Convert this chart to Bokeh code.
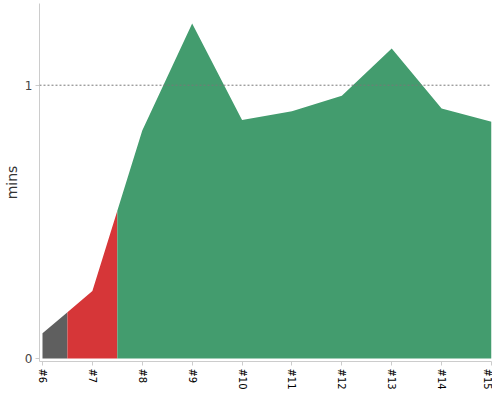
import numpy as np
from bokeh.plotting import figure
from bokeh.models import Span, FixedTicker, Range1d
from bokeh.embed import file_html
from bokeh.resources import INLINE

builds = ["#6", "#7", "#8", "#9", "#10", "#11", "#12", "#13", "#14", "#15"]
mins = [0.092, 0.247, 0.834, 1.226, 0.873, 0.905, 0.961, 1.134, 0.915, 0.866]
status = ["gray", "red", "green", "green", "green", "green", "green", "green", "green", "green"]
status_colors = {"gray": "#5f5f5f", "red": "#d63638", "green": "#439c6e"}

xs = np.arange(6, 6 + len(builds), dtype=float)
ys = np.array(mins, dtype=float)

p = figure(width=492, height=392, output_backend="svg", toolbar_location=None,
           x_range=Range1d(5.94, 15.0), y_range=Range1d(-0.011, 1.299),
           min_border_top=3, min_border_right=1, min_border_left=0, min_border_bottom=0)
p.outline_line_color = None
p.xgrid.visible = False
p.ygrid.visible = False

# merge runs of same status into polygons
runs = []
start = 0
for i in range(1, len(status) + 1):
    if i == len(status) or status[i] != status[start]:
        runs.append((start, i - 1, status[start]))
        start = i
for a, b, st in runs:
    x0 = xs[a] - 0.5 if a > 0 else xs[a]
    x1 = xs[b] + 0.5 if b < len(xs) - 1 else xs[b]
    px = [x0] + [xs[k] for k in range(a, b + 1)] + [x1]
    py = list(np.interp(px, xs, ys))
    ux, uy = [], []
    for xx, yy in zip(px, py):
        if ux and abs(ux[-1] - xx) < 1e-9:
            continue
        ux.append(xx); uy.append(yy)
    p.varea(x=ux, y1=[0] * len(ux), y2=uy, fill_color=status_colors[st], fill_alpha=1)

p.add_layout(Span(location=1, dimension="width", line_color="#777777",
                  line_dash="2 2", line_width=1))

p.xaxis.ticker = FixedTicker(ticks=list(xs))
p.xaxis.major_label_overrides = {float(x): b for x, b in zip(xs, builds)}
p.xaxis.major_label_overrides.update({int(x): b for x, b in zip(xs, builds)})
p.xaxis.major_label_orientation = "vertical"
p.xaxis.major_label_text_font = "DejaVu Sans"
p.xaxis.major_label_text_font_size = "10px"
p.xaxis.major_label_text_color = "#000000"
p.xaxis.axis_line_color = "#cccccc"
p.xaxis.major_tick_line_color = "#cccccc"
p.xaxis.major_tick_out = 4
p.xaxis.major_tick_in = 0
p.xaxis.minor_tick_line_color = None
p.xaxis.major_label_standoff = 3

p.yaxis.ticker = FixedTicker(ticks=[0, 1])
p.yaxis.axis_label = "mins"
p.yaxis.axis_label_text_font = "DejaVu Sans"
p.yaxis.axis_label_text_font_style = "normal"
p.yaxis.axis_label_text_font_size = "14px"
p.yaxis.axis_label_text_color = "#333333"
p.yaxis.axis_label_standoff = 2
p.yaxis.major_label_text_font = "DejaVu Sans"
p.yaxis.major_label_text_font_size = "12px"
p.yaxis.major_label_text_color = "#444444"
p.yaxis.axis_line_color = "#cccccc"
p.yaxis.major_tick_line_color = "#cccccc"
p.yaxis.major_tick_out = 4
p.yaxis.major_tick_in = 0
p.yaxis.minor_tick_line_color = None
p.yaxis.major_label_standoff = 3

open("out.html", "w").write(file_html(p, INLINE))
